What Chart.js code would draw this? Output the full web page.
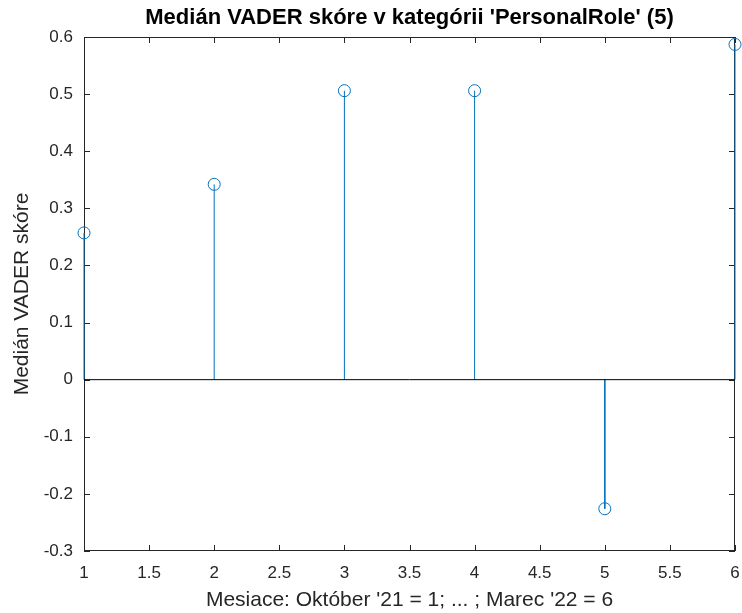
<!DOCTYPE html>
<html>
<head>
<meta charset="utf-8">
<script src="https://cdn.jsdelivr.net/npm/chart.js@4.4.1/dist/chart.umd.min.js"></script>
<style>
  html, body { margin: 0; padding: 0; background: #fff; }
  #wrap { width: 742px; height: 613px; }
</style>
</head>
<body>
<div id="wrap"><canvas id="stem-graph" width="742" height="613"></canvas></div>
<script>
const months = [1, 2, 3, 4, 5, 6]
const medianScores = [0.257, 0.342, 0.506, 0.506, -0.226, 0.587]
const xTicks = [1, 1.5, 2, 2.5, 3, 3.5, 4, 4.5, 5, 5.5, 6]
const yTicks = [-0.3, -0.2, -0.1, 0, 0.1, 0.2, 0.3, 0.4, 0.5, 0.6]

const stemColor = '#0072BD'
const axisColor = '#262626'
const fontFamily = "Arial, 'Liberation Sans', Helvetica, sans-serif"

// one little line dataset per stem, from 0 up to the value
const stems = months.map((m, i) => ({
   type: 'line',
   data: [{ x: m, y: 0 }, { x: m, y: medianScores[i] }],
   borderColor: stemColor,
   borderWidth: 1,
   pointRadius: 0,
   clip: false
}))

const boxPlugin = {
   id: 'matlabBox',
   beforeDatasetsDraw(chart) {
      const { ctx, chartArea: a, scales } = chart
      const tl = 6
      ctx.save()
      ctx.strokeStyle = axisColor
      ctx.lineWidth = 1
      ctx.strokeRect(Math.round(a.left) + 0.5, Math.round(a.top) + 0.5,
         Math.round(a.right - a.left) - 1, Math.round(a.bottom - a.top) - 1)
      ctx.beginPath()
      for (const t of xTicks) {
         const px = Math.round(scales.x.getPixelForValue(t)) + 0.5
         ctx.moveTo(px, a.bottom); ctx.lineTo(px, a.bottom - tl)
         ctx.moveTo(px, a.top); ctx.lineTo(px, a.top + tl)
      }
      for (const t of yTicks) {
         const py = Math.round(scales.y.getPixelForValue(t)) + 0.5
         ctx.moveTo(a.left, py); ctx.lineTo(a.left + tl, py)
         ctx.moveTo(a.right, py); ctx.lineTo(a.right - tl, py)
      }
      ctx.stroke()
      ctx.restore()
   }
}

new Chart(document.getElementById('stem-graph'), {
   type: 'scatter',
   data: {
      datasets: [
         {
            type: 'line',
            data: [{ x: months[0], y: 0 }, { x: months[months.length - 1], y: 0 }],
            borderColor: '#000000',
            borderWidth: 1,
            pointRadius: 0
         },
         ...stems,
         {
            type: 'scatter',
            data: months.map((m, i) => ({ x: m, y: medianScores[i] })),
            pointStyle: 'circle',
            pointRadius: 6,
            pointBorderWidth: 1,
            pointBorderColor: stemColor,
            pointBackgroundColor: 'rgba(0,0,0,0)',
            clip: false
         }
      ]
   },
   plugins: [boxPlugin],
   options: {
      responsive: false,
      animation: false,
      events: [],
      layout: { padding: { top: 0, right: 6, bottom: 0, left: 0 } },
      plugins: {
         legend: { display: false },
         tooltip: { enabled: false },
         title: {
            display: true,
            fullSize: false,
            text: "Medián VADER skóre v kategórii 'PersonalRole' (5)",
            color: '#000000',
            font: { family: fontFamily, size: 22, weight: 'bold' },
            padding: { top: 5, bottom: 5.6 }
         }
      },
      scales: {
         x: {
            type: 'linear',
            min: 1,
            max: 6,
            afterBuildTicks: s => { s.ticks = xTicks.map(v => ({ value: v })) },
            afterFit: s => { s.height = 62; s.paddingLeft = 0; s.paddingRight = 0 },
            grid: { display: false, drawTicks: false },
            border: { display: false },
            ticks: {
               color: axisColor,
               padding: 12,
               maxRotation: 0,
               font: { family: fontFamily, size: 17 },
               callback: v => String(v)
            },
            title: {
               display: true,
               text: "Mesiace: Október '21 = 1; ... ; Marec '22 = 6",
               color: axisColor,
               font: { family: fontFamily, size: 21 },
               padding: { top: 0, bottom: 0 }
            }
         },
         y: {
            type: 'linear',
            min: -0.3,
            max: 0.6,
            afterBuildTicks: s => { s.ticks = yTicks.map(v => ({ value: v })) },
            afterFit: s => { s.width = 84; s.paddingTop = 0; s.paddingBottom = 0 },
            grid: { display: false, drawTicks: false },
            border: { display: false },
            ticks: {
               color: axisColor,
               padding: 11,
               font: { family: fontFamily, size: 17 },
               callback: v => String(Math.round(v * 10) / 10)
            },
            title: {
               display: true,
               text: 'Medián VADER skóre',
               color: axisColor,
               font: { family: fontFamily, size: 21 },
               padding: { top: 10, bottom: 0 }
            }
         }
      }
   }
})
</script>
</body>
</html>
